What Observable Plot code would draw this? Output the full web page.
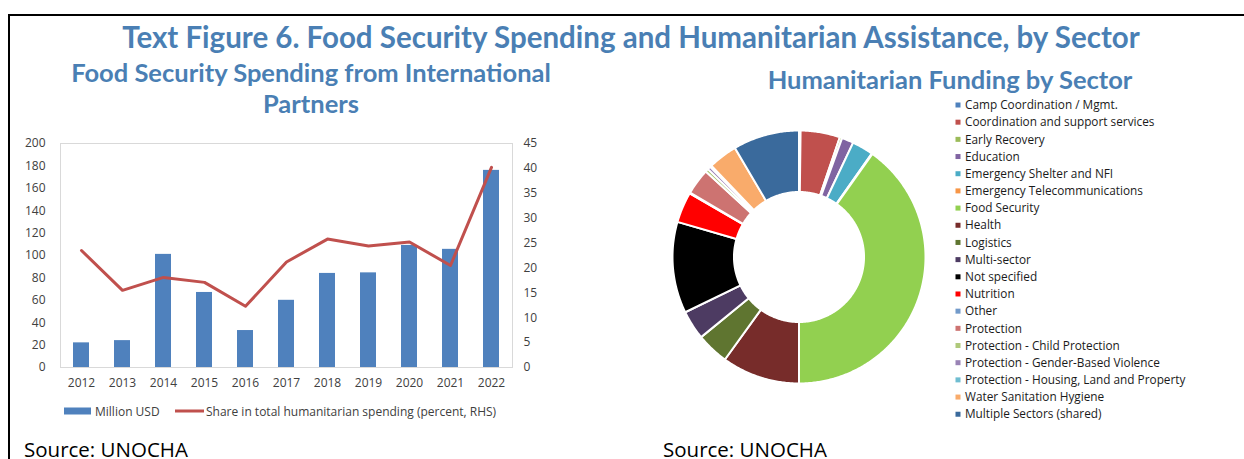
<!DOCTYPE html>
<html><head><meta charset="utf-8">
<script src="https://cdn.jsdelivr.net/npm/d3@7"></script>
<script src="https://cdn.jsdelivr.net/npm/@observablehq/plot@0.6"></script>
<style>
body{margin:0;background:#fff;}
#root{position:relative;width:1244px;height:459px;overflow:hidden;background:#fff;}
.abs{position:absolute;}
</style></head><body><div id="root"></div>
<script>
// ---------- data ----------
const years = ["2012","2013","2014","2015","2016","2017","2018","2019","2020","2021","2022"];
const millionUSD = [22, 24, 101, 67, 33, 60, 84, 84.5, 109, 105.5, 176];
const sharePct = [23.5, 15.5, 18.1, 17.1, 12.3, 21.2, 25.8, 24.4, 25.2, 20.5, 40.2];
const leftTicks = [0,20,40,60,80,100,120,140,160,180,200];
const rightTicks = [0,5,10,15,20,25,30,35,40,45];

const sectors = ["Camp Coordination / Mgmt.","Coordination and support services","Early Recovery","Education",
 "Emergency Shelter and NFI","Emergency Telecommunications","Food Security","Health","Logistics","Multi-sector",
 "Not specified","Nutrition","Other","Protection","Protection - Child Protection","Protection - Gender-Based Violence",
 "Protection - Housing, Land and Property","Water Sanitation Hygiene","Multiple Sectors (shared)"];
const sectorShares = [0.2, 5.0, 0.3, 1.5, 2.7, 0.1, 39.9, 9.9, 4.1, 3.7, 11.6, 3.9, 0.1, 3.3, 0.4, 0.4, 0.2, 3.7, 8.4];
const sectorColors = ["#4f81bd","#c0504d","#9bbb59","#8064a2","#4bacc6","#f79646","#92d050","#772c2a","#5f7530","#4d3b62",
 "#000000","#ff0000","#729aca","#cd7371","#afc97a","#9983b5","#6fbdd1","#f9ab6b","#3a6a9c"];

const titleText = "Text Figure 6. Food Security Spending and Humanitarian Assistance, by Sector";
const leftSub = ["Food Security Spending from International","Partners"];
const rightSub = "Humanitarian Funding by Sector";
const legendLeft = ["Million USD","Share in total humanitarian spending (percent, RHS)"];
const sourceText = "Source: UNOCHA";

// ---------- layout ----------
const root = document.getElementById("root");
const BLUE = "#4a7fb4";
const tickFont = {fontFamily:"'Open Sans', sans-serif", fontSize:"12px", color:"#404040", background:"transparent", overflow:"visible"};

const W = 560, H = 275, mL = 60, mR = 48, mT = 13, mB = 38;
const xOpt = {type:"band", domain: years, paddingInner: 0.6, paddingOuter: 0.3, label: null};
const rows = years.map((y,i) => ({year:y, usd: millionUSD[i], share: sharePct[i]}));

const barsPlot = Plot.plot({
  width: W, height: H, marginLeft: mL, marginRight: mR, marginTop: mT, marginBottom: mB,
  style: tickFont,
  x: xOpt,
  y: {domain:[0,200], label:null},
  marks: [
    Plot.frame({stroke:"#d9d9d9"}),
    Plot.barY(rows, {x:"year", y:"usd", fill:"#4f81bd"}),
    Plot.axisY({ticks: leftTicks, tickSize:0, tickPadding:15, label:null}),
    Plot.axisX({tickSize:0, tickPadding:11, label:null})
  ]
});
barsPlot.classList.add("abs");
barsPlot.style.left = "0px"; barsPlot.style.top = "130px";
root.appendChild(barsPlot);

const linePlot = Plot.plot({
  width: W, height: H, marginLeft: mL, marginRight: mR, marginTop: mT, marginBottom: mB,
  style: tickFont,
  x: {...xOpt, axis: null},
  y: {domain:[0,45], label:null, axis:null},
  marks: [
    Plot.line(rows, {x:"year", y:"share", stroke:"#c0504d", strokeWidth:3}),
    Plot.axisY({anchor:"right", ticks: rightTicks, tickSize:0, tickPadding:11, label:null})
  ]
});
linePlot.classList.add("abs");
linePlot.style.left = "0px"; linePlot.style.top = "130px";
root.appendChild(linePlot);

// ---------- donut ----------
const R = 1, R0 = 0.514;
const arcs = d3.pie().sort(null).value(d => d)(sectorShares);
const pts = [];
arcs.forEach((p, i) => {
  const a0 = p.startAngle, a1 = p.endAngle;
  const n = Math.max(2, Math.ceil((a1 - a0) / 0.01));
  for (let k = 0; k <= n; k++) { const a = a0 + (a1 - a0) * k / n; pts.push({s: sectors[i], x: R*Math.sin(a), y: R*Math.cos(a)}); }
  for (let k = n; k >= 0; k--) { const a = a0 + (a1 - a0) * k / n; pts.push({s: sectors[i], x: R0*Math.sin(a), y: R0*Math.cos(a)}); }
});
const D = 253;
const donut = Plot.plot({
  width: D, height: D, margin: 0,
  style: {background:"transparent", overflow:"visible"},
  x: {domain:[-1,1], axis:null},
  y: {domain:[-1,1], axis:null},
  color: {domain: sectors, range: sectorColors},
  marks: [
    Plot.line(pts, {x:"x", y:"y", z:"s", fill:"s", stroke:"white", strokeWidth:2, curve:"linear-closed"})
  ]
});
donut.classList.add("abs");
donut.style.left = (798.3 - D/2) + "px"; donut.style.top = (256.3 - D/2) + "px";
root.appendChild(donut);

// ---------- text overlay ----------
const svg = d3.select(root).append("svg").attr("class","abs").attr("width",1244).attr("height",459)
  .style("left","0px").style("top","0px");
// frame
svg.append("path").attr("d","M9,459V15H1244").attr("fill","none").attr("stroke","#000").attr("stroke-width",2);
const heading = (txt, x, y, size) => svg.append("text").attr("x",x).attr("y",y).attr("text-anchor","middle")
  .attr("font-family","Lato, sans-serif").attr("font-weight",700).attr("font-size",size).attr("fill",BLUE).text(txt);
heading(titleText, 631, 48, 29.5);
heading(leftSub[0], 311, 81.5, 25.5);
heading(leftSub[1], 311, 113, 25.5);
heading(rightSub, 950, 88.5, 25.5);

// left legend
svg.append("rect").attr("x",64).attr("y",407.5).attr("width",27).attr("height",7).attr("fill","#4f81bd");
svg.append("text").attr("x",95).attr("y",415.5).attr("font-family","'Open Sans', sans-serif").attr("font-size",12).attr("fill","#404040").text(legendLeft[0]);
svg.append("rect").attr("x",175).attr("y",409.5).attr("width",29).attr("height",3).attr("fill","#c0504d");
svg.append("text").attr("x",206).attr("y",415.5).attr("font-family","'Open Sans', sans-serif").attr("font-size",12).attr("fill","#404040").text(legendLeft[1]);

// right legend
sectors.forEach((s, i) => {
  const cy = 105 + i * 17.18;
  svg.append("rect").attr("x",955.5).attr("y",cy-2.5).attr("width",5).attr("height",5).attr("fill",sectorColors[i]);
  svg.append("text").attr("x",965).attr("y",cy+4.2).attr("font-family","'Open Sans', sans-serif").attr("font-size",11.8).attr("fill","#1a1a1a").text(s);
});

// sources
[24, 663].forEach(x => svg.append("text").attr("x",x).attr("y",457).attr("font-family","'Open Sans', sans-serif").attr("font-size",20.5).attr("fill","#000").text(sourceText));
</script></body></html>
